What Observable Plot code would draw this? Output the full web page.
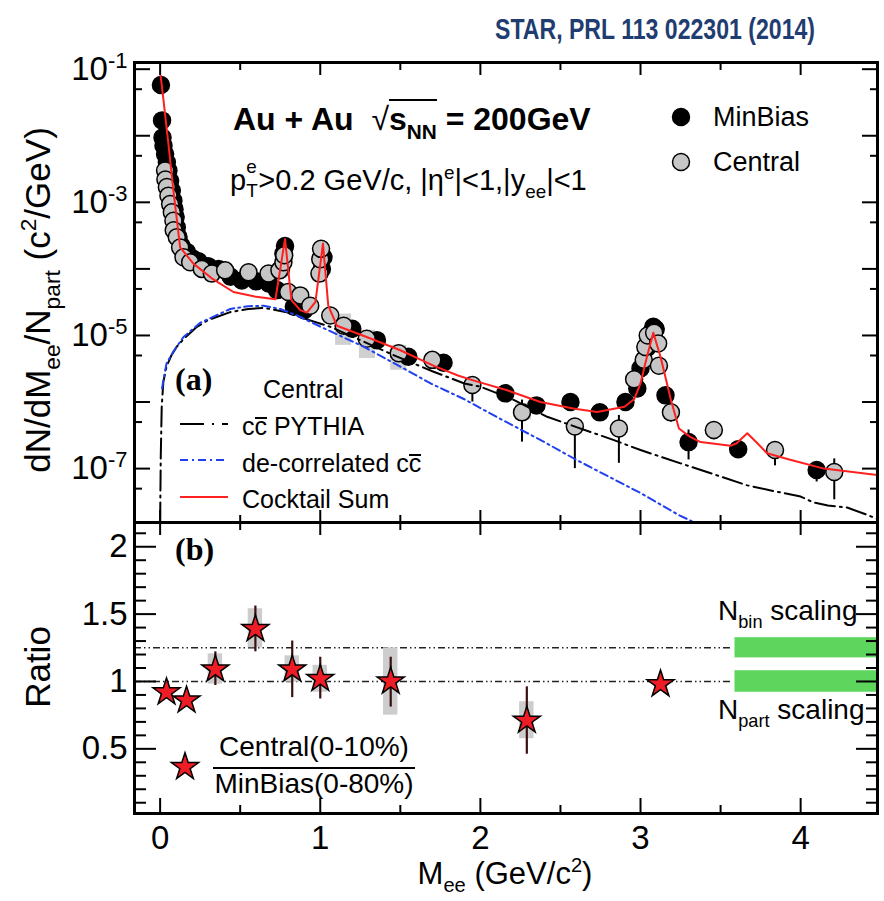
<!DOCTYPE html>
<html><head><meta charset="utf-8">
<script src="https://cdn.jsdelivr.net/npm/d3@7"></script>
<script src="https://cdn.jsdelivr.net/npm/@observablehq/plot@0.6"></script>
<style>
body{margin:0;background:#fff;}
#wrap{position:relative;width:884px;height:901px;overflow:hidden;background:#fff;font-family:"Liberation Sans",Arial,Helvetica,sans-serif;color:#000;}
.abs{position:absolute;white-space:nowrap;line-height:1;}
.abs sub,.abs sup{font-size:0.65em;line-height:0;position:relative;vertical-align:baseline;}
.abs sub{top:0.42em;}
.abs sup{top:-0.6em;}
.ov{display:inline-block;line-height:0.56;border-top:2px solid currentColor;}
.plotbox{position:absolute;left:0;}
</style></head>
<body><div id="wrap"></div>
<script>
// ---------------- data ----------------
const minBiasX = [0.005,0.012,0.015,0.021,0.031,0.042,0.052,0.0625,0.073,0.083,0.09,0.097,0.104,0.115,0.135,0.167,0.2,0.24,0.3,0.365,0.44,0.51,0.6,0.68,0.73,0.755,0.77,0.78,0.835,0.9,1.01,1.02,1.2,1.354,1.55,1.77,2.156,2.35,2.5625,2.746,2.906,2.98,3.0,3.04,3.065,3.08,3.095,3.156,3.30,3.61,4.10];
const minBiasY = [0.058,0.017,9.4e-3,7.1e-3,5.3e-3,4.0e-3,3.0e-3,2.1e-3,1.5e-3,1.06e-3,7.9e-4,6.0e-4,4.2e-4,3.0e-4,2.2e-4,1.8e-4,1.45e-4,1.3e-4,1.1e-4,1.0e-4,7.6e-5,6.7e-5,6.5e-5,6.0e-5,4.8e-5,1.0e-4,1.7e-4,2.2e-4,2.7e-5,2.4e-5,1.0e-4,1.5e-4,1.26e-5,8.5e-6,4.8e-6,3.9e-6,1.35e-6,8.9e-7,1.0e-6,7.0e-7,1.0e-6,1.6e-6,3.2e-6,6.5e-6,1.1e-5,1.35e-5,1.25e-5,1.26e-6,2.5e-7,1.95e-7,9.5e-8];

const centralX = [0.031,0.033,0.042,0.052,0.0625,0.073,0.083,0.085,0.104,0.125,0.146,0.1875,0.26,0.323,0.406,0.552,0.677,0.745,0.77,0.775,0.80,0.875,0.9375,0.995,1.0,1.005,1.0625,1.146,1.29,1.49,1.70,1.95,2.26,2.59,2.865,2.96,3.02,3.03,3.045,3.085,3.11,3.115,3.19,3.458,3.84,4.21];
const centralY = [3.0e-3,2.2e-3,1.7e-3,1.26e-3,9.4e-4,7.1e-4,5.3e-4,3.8e-4,3.0e-4,2.1e-4,1.5e-4,1.26e-4,1.0e-4,8.5e-5,9.5e-5,8.9e-5,8.5e-5,9.5e-5,1.26e-4,1.6e-4,4.5e-5,4.0e-5,2.8e-5,8.5e-5,1.4e-4,2.0e-4,2.0e-5,1.4e-5,8.9e-6,5.4e-6,4.3e-6,1.8e-6,7.0e-7,4.3e-7,4.0e-7,2.2e-6,4.3e-6,6.7e-6,1.0e-5,1.1e-5,7.6e-6,3.5e-6,7.0e-7,3.8e-7,1.9e-7,8.9e-8];

const centralErrX  = [1.95,2.26,2.59,2.865,3.19,3.458,3.84,4.21];
const centralErrLo = [1.0e-6,2.5e-7,1.0e-7,1.2e-7,5.0e-7,2.7e-7,1.1e-7,3.4e-8];
const centralErrHi = [2.4e-6,1.07e-6,5.5e-7,6.3e-7,8.5e-7,4.5e-7,2.3e-7,1.4e-7];
const minBiasErrX  = [2.156,2.35,2.5625,2.746,3.156,3.30,3.61,4.10];
const minBiasErrLo = [1.1e-6,6.5e-7,8.0e-7,5.5e-7,9.5e-7,1.35e-7,1.5e-7,6.3e-8];
const minBiasErrHi = [1.6e-6,1.1e-6,1.2e-6,8.5e-7,1.6e-6,3.8e-7,2.5e-7,1.2e-7];

const sysX  = [1.146,1.295,1.49,2.27];
const sysLo = [7.1e-6,4.5e-6,3.0e-6,5.4e-7];
const sysHi = [2.1e-5,1.2e-5,7.1e-6,9.5e-7];

const pythiaX = [0.0,0.004,0.01,0.02,0.04,0.07,0.104,0.15,0.23,0.3,0.4375,0.55,0.646,0.79,0.9,1.0625,1.25,1.48,1.7,1.9,2.0,2.2,2.417,2.6,2.83,3.0,3.25,3.5,3.667,3.85,4.0,4.08,4.17,4.29,4.42,4.48];
const pythiaY = [1.55e-8,1.5e-7,8.5e-7,2.0e-6,3.4e-6,5.0e-6,6.8e-6,9.0e-6,1.35e-5,1.7e-5,2.24e-5,2.5e-5,2.6e-5,2.24e-5,1.8e-5,1.35e-5,8.5e-6,4.8e-6,2.9e-6,1.9e-6,1.7e-6,1.1e-6,6.0e-7,4.2e-7,2.7e-7,1.9e-7,1.2e-7,7.6e-8,5.6e-8,4.5e-8,3.8e-8,3.1e-8,2.8e-8,2.6e-8,2.0e-8,1.75e-8];

const decorX = [0.012,0.02,0.04,0.08,0.146,0.25,0.35,0.4375,0.55,0.646,0.75,0.854,1.0,1.27,1.5,1.69,1.9,2.1,2.4,2.6,3.0,3.24,3.35];
const decorY = [1.6e-6,2.1e-6,3.8e-6,5.6e-6,9.5e-6,1.55e-5,2.0e-5,2.5e-5,2.75e-5,2.8e-5,2.5e-5,2.0e-5,1.36e-5,6.8e-6,3.4e-6,1.9e-6,1.1e-6,6.0e-7,2.5e-7,1.35e-7,4.3e-8,2.0e-8,1.5e-8];

const cocktailX = [0.003,0.017,0.052,0.083,0.125,0.208,0.33,0.458,0.6,0.72,0.78,0.82,0.875,0.917,0.97,1.017,1.05,1.104,1.29,1.5,1.71,1.86,1.96,2.167,2.375,2.58,2.73,2.9,2.96,3.0,3.04,3.08,3.125,3.19,3.24,3.31,3.375,3.5625,3.6,3.667,3.73,3.79,3.94,4.146,4.48];
const cocktailY = [0.08,0.042,7.5e-3,1.5e-3,2.1e-4,1.2e-4,7.0e-5,4.5e-5,3.8e-5,3.5e-5,2.8e-4,3.4e-5,2.4e-5,2.2e-5,3.2e-5,2.4e-4,2.8e-5,1.4e-5,9.5e-6,6.0e-6,3.5e-6,2.5e-6,2.1e-6,1.5e-6,1.0e-6,8.0e-7,7.1e-7,8.5e-7,1.1e-6,1.9e-6,4.8e-6,1.1e-5,4.8e-6,1.07e-6,4.0e-7,3.0e-7,2.5e-7,2.2e-7,2.4e-7,3.4e-7,2.4e-7,1.7e-7,1.35e-7,1.0e-7,8.0e-8];

const ratioX     = [0.04,0.165,0.345,0.595,0.825,1.0,1.44,2.29,3.125];
const ratioY     = [0.92,0.86,1.09,1.39,1.09,1.02,1.0,0.71,0.98];
const ratioErrLo = [0.90,0.84,0.97,1.22,0.88,0.87,0.81,0.46,0.95];
const ratioErrHi = [0.94,0.88,1.22,1.56,1.30,1.18,1.18,0.96,1.01];
const ratioSysX  = [0.345,0.595,0.825,1.0,1.44,2.29];
const ratioSysLo = [0.98,1.25,0.995,0.92,0.75,0.575];
const ratioSysHi = [1.205,1.54,1.19,1.12,1.25,0.85];

const scalingLevel = [1.25,1.0];      // N_bin, N_part
const scalingHalf  = [0.075,0.08];
const scalingStart = 3.59;             // where the bands begin / dotted lines end

const xDomain = [-0.16, 4.48];
const yTopDomain = [1.55e-8, 0.126];
const ratioDomain = [0.02, 2.18];
const xMajor = [0,1,2,3,4];
const xMinor = [0.5,1.5,2.5,3.5];
const yTopMajor = [1e-1,1e-2,1e-3,1e-4,1e-5,1e-6,1e-7];
const yTopMinor = [5e-2,5e-3,5e-4,5e-5,5e-6,5e-7,5e-8];
const yTopLabels = [1e-1,1e-3,1e-5,1e-7];
const ratioMajor = [0.5,1,1.5,2];
const ratioMinor = [0.1,0.2,0.3,0.4,0.6,0.7,0.8,0.9,1.1,1.2,1.3,1.4,1.6,1.7,1.8,1.9,2.1];

// ---------------- tables ----------------
const zip2 = (xs, ys) => xs.map((x, i) => ({x, y: ys[i]}));
const minBias = zip2(minBiasX, minBiasY);
const central = zip2(centralX, centralY);
const pythia = zip2(pythiaX, pythiaY);
const decor = zip2(decorX, decorY);
const cocktail = zip2(cocktailX, cocktailY);
const errCen = centralErrX.map((x, i) => ({x, lo: centralErrLo[i], hi: centralErrHi[i]}));
const errMin = minBiasErrX.map((x, i) => ({x, lo: minBiasErrLo[i], hi: minBiasErrHi[i]}));
const sysTop = sysX.map((x, i) => ({x, lo: sysLo[i], hi: sysHi[i]}));
const ratio = zip2(ratioX, ratioY);
const ratioErr = ratioX.map((x, i) => ({x, lo: ratioErrLo[i], hi: ratioErrHi[i]}));
const ratioSys = ratioSysX.map((x, i) => ({x, lo: ratioSysLo[i], hi: ratioSysHi[i]}));
const refLines = scalingLevel.map(y => ({y, x1: xDomain[0], x2: scalingStart - 0.02}));
const bands = scalingLevel.map((y, i) => ({x1: scalingStart, x2: xDomain[1], lo: y - scalingHalf[i], hi: y + scalingHalf[i]}));

// ---------------- layout ----------------
const W = 884, H = 901;
const frameL = 134, frameR = 877, topY = 62, midY = 522, botY = 813;
const FONT = "'Liberation Sans', Arial, Helvetica, sans-serif";
const TICKFS = 33;
const style = {fontFamily: FONT, fontSize: TICKFS + "px", color: "#000", background: "transparent", overflow: "visible"};
const PYDASH = "20,5,2,5", BLUEDASH = "8,4,2,4";

function tickMarks(dim, anchor, values, size) {
  const A = dim === "x" ? Plot.axisX : Plot.axisY;
  return A(values, {anchor, tickSize: -size, fill: "none", label: null, strokeWidth: 2});
}

const topPlot = Plot.plot({
  width: W, height: midY, marginTop: topY, marginBottom: 0, marginLeft: frameL, marginRight: W - frameR,
  style,
  x: {domain: xDomain},
  y: {type: "log", domain: yTopDomain},
  marks: [
    Plot.rect(sysTop, {x1: d => d.x - 0.05, x2: d => d.x + 0.05, y1: "lo", y2: "hi", fill: "#d0d0d0"}),
    Plot.ruleX(errMin, {x: "x", y1: "lo", y2: "hi", stroke: "#000", strokeWidth: 2}),
    Plot.ruleX(errCen, {x: "x", y1: "lo", y2: "hi", stroke: "#000", strokeWidth: 2}),
    Plot.dot(minBias, {x: "x", y: "y", r: 8.5, fill: "#000", stroke: "#000", strokeWidth: 1.5}),
    Plot.dot(central, {x: "x", y: "y", r: 8.5, fill: "#c6c6c6", stroke: "#000", strokeWidth: 1.5}),
    Plot.line(pythia, {x: "x", y: "y", stroke: "#000", strokeWidth: 2, strokeDasharray: PYDASH, clip: true}),
    Plot.line(decor, {x: "x", y: "y", stroke: "#2040f0", strokeWidth: 2, strokeDasharray: BLUEDASH, clip: true}),
    Plot.line(cocktail, {x: "x", y: "y", stroke: "#ff2020", strokeWidth: 2, clip: true}),
    tickMarks("y", "left", yTopMajor, 16), tickMarks("y", "left", yTopMinor, 8),
    tickMarks("y", "right", yTopMajor, 16), tickMarks("y", "right", yTopMinor, 8),
    tickMarks("x", "bottom", xMajor, 12), tickMarks("x", "bottom", xMinor, 7),
    tickMarks("x", "top", xMajor, 12), tickMarks("x", "top", xMinor, 7),
    Plot.axisY(yTopLabels, {anchor: "left", tickSize: 0, tickPadding: 7, label: null, fontSize: TICKFS,
      tickFormat: d => "10^" + Math.round(Math.log10(d))}),
    Plot.frame({stroke: "#000", strokeWidth: 3})
  ]
});

const bottomPlot = Plot.plot({
  width: W, height: H - midY, marginTop: 0, marginBottom: H - botY, marginLeft: frameL, marginRight: W - frameR,
  style,
  x: {domain: xDomain},
  y: {domain: ratioDomain},
  marks: [
    Plot.ruleY(refLines, {y: "y", x1: "x1", x2: "x2", stroke: "#222", strokeWidth: 1.6, strokeDasharray: "7,3,1.5,3,1.5,3"}),
    Plot.rect(bands, {x1: "x1", x2: "x2", y1: "lo", y2: "hi", fill: "#5ed65e"}),
    Plot.rect(ratioSys, {x1: d => d.x - 0.045, x2: d => d.x + 0.045, y1: "lo", y2: "hi", fill: "#cdcdcd"}),
    Plot.ruleX(ratioErr, {x: "x", y1: "lo", y2: "hi", stroke: "#3a0f0f", strokeWidth: 2.2}),
    Plot.dot(ratio, {x: "x", y: "y", symbol: "star", r: 8.5, fill: "#ee1c24", stroke: "#000", strokeWidth: 1.5}),
    tickMarks("y", "left", ratioMajor, 22), tickMarks("y", "left", ratioMinor, 12),
    tickMarks("y", "right", ratioMajor, 22), tickMarks("y", "right", ratioMinor, 12),
    tickMarks("x", "bottom", xMajor, 15), tickMarks("x", "bottom", xMinor, 8),
    tickMarks("x", "top", xMajor, 12), tickMarks("x", "top", xMinor, 7),
    Plot.axisY(ratioMajor, {anchor: "left", tickSize: 0, tickPadding: 7, label: null, fontSize: TICKFS, tickFormat: d => String(d)}),
    Plot.axisX(xMajor, {anchor: "bottom", tickSize: 0, tickPadding: 12, label: null, fontSize: TICKFS, tickFormat: d => String(d)}),
    Plot.frame({stroke: "#000", strokeWidth: 3})
  ]
});

// superscripts in tick labels ("10^-3")
const NS = "http://www.w3.org/2000/svg";
function supify(svg) {
  svg.querySelectorAll("text").forEach(t => {
    const m = /^(.*)\^(.*)$/.exec(t.textContent);
    if (!m) return;
    t.textContent = "";
    const a = document.createElementNS(NS, "tspan"); a.textContent = m[1];
    const b = document.createElementNS(NS, "tspan"); b.textContent = m[2];
    b.setAttribute("dy", "-12"); b.style.fontSize = "22px";
    t.append(a, b);
  });
}
supify(topPlot);

const wrap = document.getElementById("wrap");
const box1 = document.createElement("div"); box1.className = "plotbox"; box1.style.top = "0px"; box1.append(topPlot);
const box2 = document.createElement("div"); box2.className = "plotbox"; box2.style.top = midY + "px"; box2.append(bottomPlot);
wrap.append(box1, box2);

// ---------------- text & legends ----------------
function label(html, x, baseline, size, opts = {}) {
  const d = document.createElement("div");
  d.className = "abs";
  d.innerHTML = html;
  d.style.fontSize = size + "px";
  if (opts.weight) d.style.fontWeight = opts.weight;
  if (opts.family) d.style.fontFamily = opts.family;
  if (opts.color) d.style.color = opts.color;
  d.style.top = (baseline - 0.847 * size) + "px";
  d.style.left = x + "px";
  if (opts.center) d.style.transform = "translateX(-50%)";
  wrap.append(d);
  if (opts.fitWidth) {
    const w = d.getBoundingClientRect().width;
    d.style.transformOrigin = "0 0";
    d.style.transform = `scaleX(${opts.fitWidth / w})`;
  }
  return d;
}
function vlabel(html, cx, cy, size) {
  const d = document.createElement("div");
  d.className = "abs";
  d.innerHTML = html;
  d.style.fontSize = size + "px";
  d.style.left = cx + "px"; d.style.top = cy + "px";
  d.style.transform = "translate(-50%,-50%) rotate(-90deg)";
  wrap.append(d);
}
const SERIF = "'Liberation Serif','Times New Roman',serif";

label("STAR, PRL 113 022301 (2014)", 495, 40, 29, {weight: "bold", color: "#1f3d70", fitWidth: 320});
label('Au + Au&nbsp; <span style="font-weight:normal">&#8730;</span><span style="border-top:2px solid #000;">s<sub>NN</sub></span> = 200GeV', 233, 130, 32, {weight: "bold"});
label("MinBias", 713, 127, 27);
label("Central", 713, 172, 27);
label('p<span style="display:inline-block;position:relative;width:0.42em;height:0.1em;"><span style="position:absolute;left:0;top:-1.55em;font-size:0.65em;">e</span><span style="position:absolute;left:0;top:-0.3em;font-size:0.65em;">T</span></span>&gt;0.2 GeV/c, |&#951;<sup>e</sup>|&lt;1,|y<sub>ee</sub>|&lt;1', 230, 191, 29);
label("(a)", 175, 390, 32, {weight: "bold", family: SERIF});
label("Central", 263, 398, 25);
label('c<span class="ov">c</span> PYTHIA', 242, 435, 25);
label('de-correlated c<span class="ov">c</span>', 242, 472, 25);
label("Cocktail Sum", 242, 508, 25);
label("(b)", 175, 560, 32, {weight: "bold", family: SERIF});
label("Central(0-10%)", 314, 757, 28, {center: true});
label("MinBias(0-80%)", 314, 794, 28, {center: true});
label("N<sub>bin</sub> scaling", 718, 621, 28);
label("N<sub>part</sub> scaling", 718, 720, 28);
label("M<sub>ee</sub> (GeV/c<sup>2</sup>)", 505, 884, 31, {center: true});
vlabel("dN/dM<sub>ee</sub>/N<sub>part</sub> (c<sup>2</sup>/GeV)", 37, 300, 35);
vlabel("Ratio", 37, 667, 35);

// legend keys (decoration overlay)
const ov = d3.select(wrap).append("svg").attr("width", W).attr("height", H)
  .style("position", "absolute").style("left", 0).style("top", 0).style("pointer-events", "none");
ov.append("circle").attr("cx", 681).attr("cy", 117).attr("r", 8.5).attr("fill", "#000").attr("stroke", "#000").attr("stroke-width", 1.5);
ov.append("circle").attr("cx", 681).attr("cy", 162).attr("r", 8.5).attr("fill", "#c6c6c6").attr("stroke", "#000").attr("stroke-width", 1.5);
ov.append("line").attr("x1", 180).attr("x2", 228).attr("y1", 424).attr("y2", 424).attr("stroke", "#000").attr("stroke-width", 2).attr("stroke-dasharray", "24,8,2,8");
ov.append("line").attr("x1", 180).attr("x2", 228).attr("y1", 460).attr("y2", 460).attr("stroke", "#2040f0").attr("stroke-width", 2).attr("stroke-dasharray", BLUEDASH);
ov.append("line").attr("x1", 180).attr("x2", 228).attr("y1", 497).attr("y2", 497).attr("stroke", "#ff2020").attr("stroke-width", 2);
ov.append("path").attr("transform", "translate(185,767)").attr("d", d3.symbol(d3.symbolStar, 8.5 * 8.5 * Math.PI)())
  .attr("fill", "#ee1c24").attr("stroke", "#000").attr("stroke-width", 1.5);
ov.append("line").attr("x1", 213).attr("x2", 415).attr("y1", 768).attr("y2", 768).attr("stroke", "#000").attr("stroke-width", 2);
</script>
</body></html>
